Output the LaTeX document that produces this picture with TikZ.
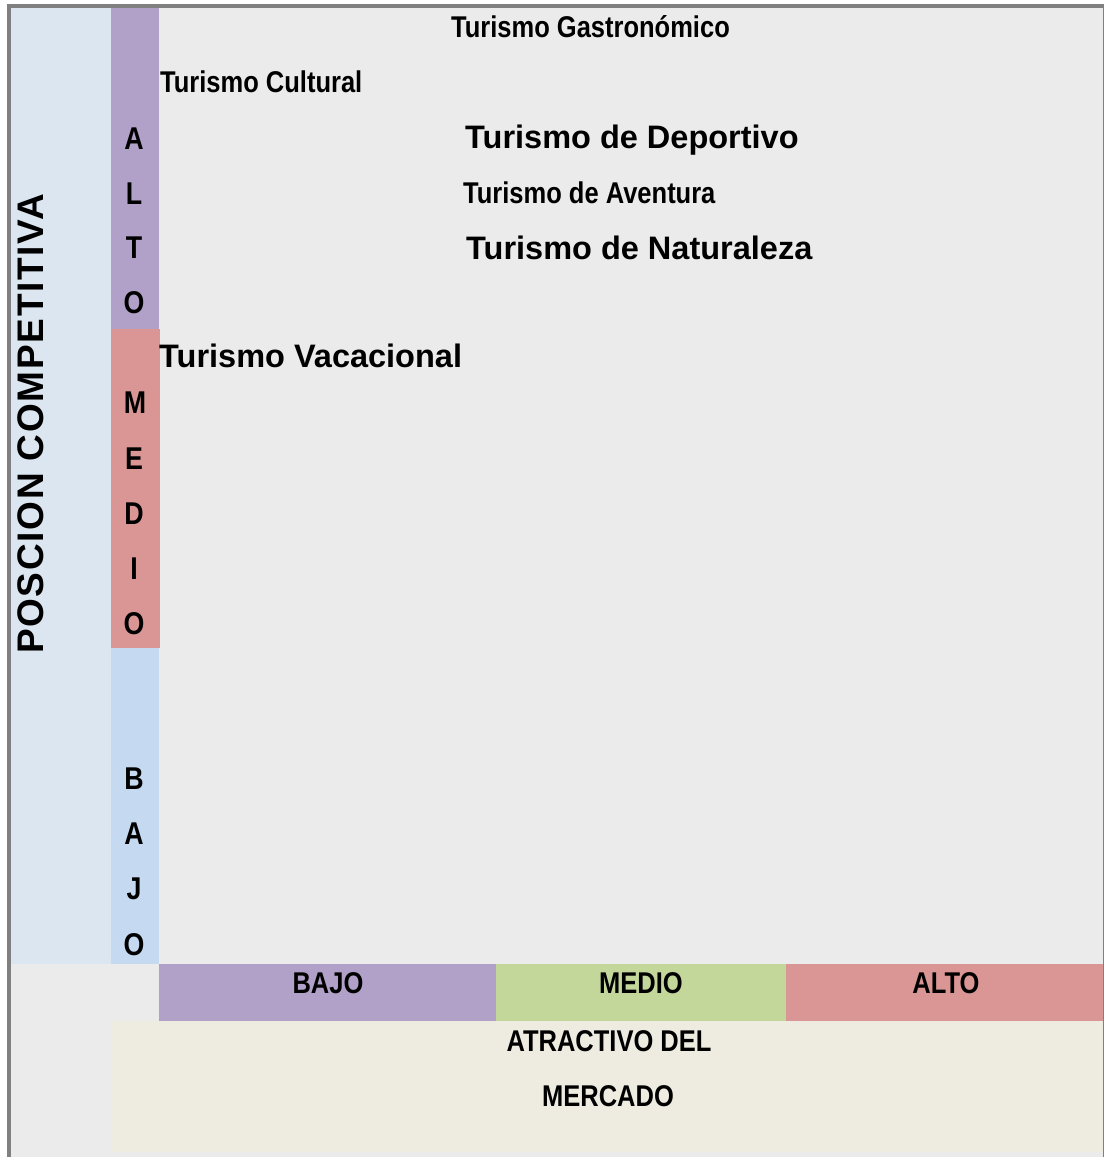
\documentclass[tikz,border=0pt]{standalone}
\usepackage{fontspec}
\setmainfont{Liberation Sans}
\newfontfamily\narrowfont[FakeStretch=0.85]{Liberation Sans}
\newfontfamily\spacedfont[LetterSpace=4.6]{Liberation Sans}
\definecolor{bggray}{HTML}{EBEBEB}
\definecolor{bordergray}{HTML}{808080}
\definecolor{leftblue}{HTML}{DCE6F1}
\definecolor{barblue}{HTML}{C5D9F1}
\definecolor{barpurple}{HTML}{B1A0C7}
\definecolor{barpink}{HTML}{DA9694}
\definecolor{bargreen}{HTML}{C4D79B}
\definecolor{beige}{HTML}{EEECE1}
\begin{document}
\begin{tikzpicture}[x=1pt,y=-1pt,
  nar/.style={font=\narrowfont\bfseries\fontsize{30}{30}\selectfont, inner sep=0pt},
  wide/.style={font=\bfseries\fontsize{32.5}{32.5}\selectfont, inner sep=0pt},
  letter/.style={font=\narrowfont\bfseries\fontsize{31.5}{31.5}\selectfont, inner sep=0pt, anchor=center}]
\useasboundingbox (0,0) rectangle (1104,1157);
\fill[white] (0,0) rectangle (1104,1157);
\fill[bggray] (7,4) rectangle (1104,1157);
% border
\fill[bordergray] (7,4) rectangle (11,1157);
\fill[bordergray] (7,4) rectangle (1104,8);
\fill[bordergray] (1102.6,4) rectangle (1103.8,1157);
% left column and bars
\fill[leftblue] (11,8) rectangle (111,964);
\fill[barpurple] (111,8) rectangle (159,329);
\fill[barpink] (111,329) rectangle (160,648);
\fill[barblue] (111,648) rectangle (159,964);
% bottom bars
\fill[barpurple] (159,964) rectangle (496,1021);
\fill[bargreen] (496,964) rectangle (786,1021);
\fill[barpink] (786,964) rectangle (1102.6,1021);
\fill[beige] (111,1021) rectangle (1102.6,1152);

% axis title
\node[font=\spacedfont\bfseries\fontsize{37}{37}\selectfont, inner sep=0pt, rotate=90, anchor=center] (pos) at (30.5,424) {POSCION COMPETITIVA};

% vertical letters
\node[letter] (a1) at (134,139) {A};
\node[letter] (a2) at (134,194) {L};
\node[letter] (a3) at (134,248) {T};
\node[letter] (a4) at (134,303) {O};
\node[letter] (m1) at (135,403) {M};
\node[letter] (m2) at (134,459) {E};
\node[letter] (m3) at (134,514) {D};
\node[letter] (m4) at (134,569) {I};
\node[letter] (m5) at (134,624) {O};
\node[letter] (b1) at (134,779) {B};
\node[letter] (b2) at (134,834) {A};
\node[letter] (b3) at (134,889) {J};
\node[letter] (b4) at (134,945) {O};

% bottom labels
\node[nar] (xb) at (328,983) {BAJO};
\node[nar] (xm) at (641,983) {MEDIO};
\node[nar] (xa) at (946,983) {ALTO};
\node[nar] (at1) at (609,1041) {ATRACTIVO DEL};
\node[nar] (at2) at (608,1096) {MERCADO};

% tourism types
\node[nar, anchor=base west] (gas) at (451,37) {Turismo Gastronómico};
\node[nar, anchor=base west] (cul) at (160,92.5) {Turismo Cultural};
\node[wide, anchor=base west] (dep) at (465,148) {Turismo de Deportivo};
\node[nar, anchor=base west] (ave) at (463,203.5) {Turismo de Aventura};
\node[wide, anchor=base west] (nat) at (466,259) {Turismo de Naturaleza};
\node[wide, anchor=base west] (vac) at (159,367.5) {Turismo Vacacional};
\end{tikzpicture}
\end{document}
